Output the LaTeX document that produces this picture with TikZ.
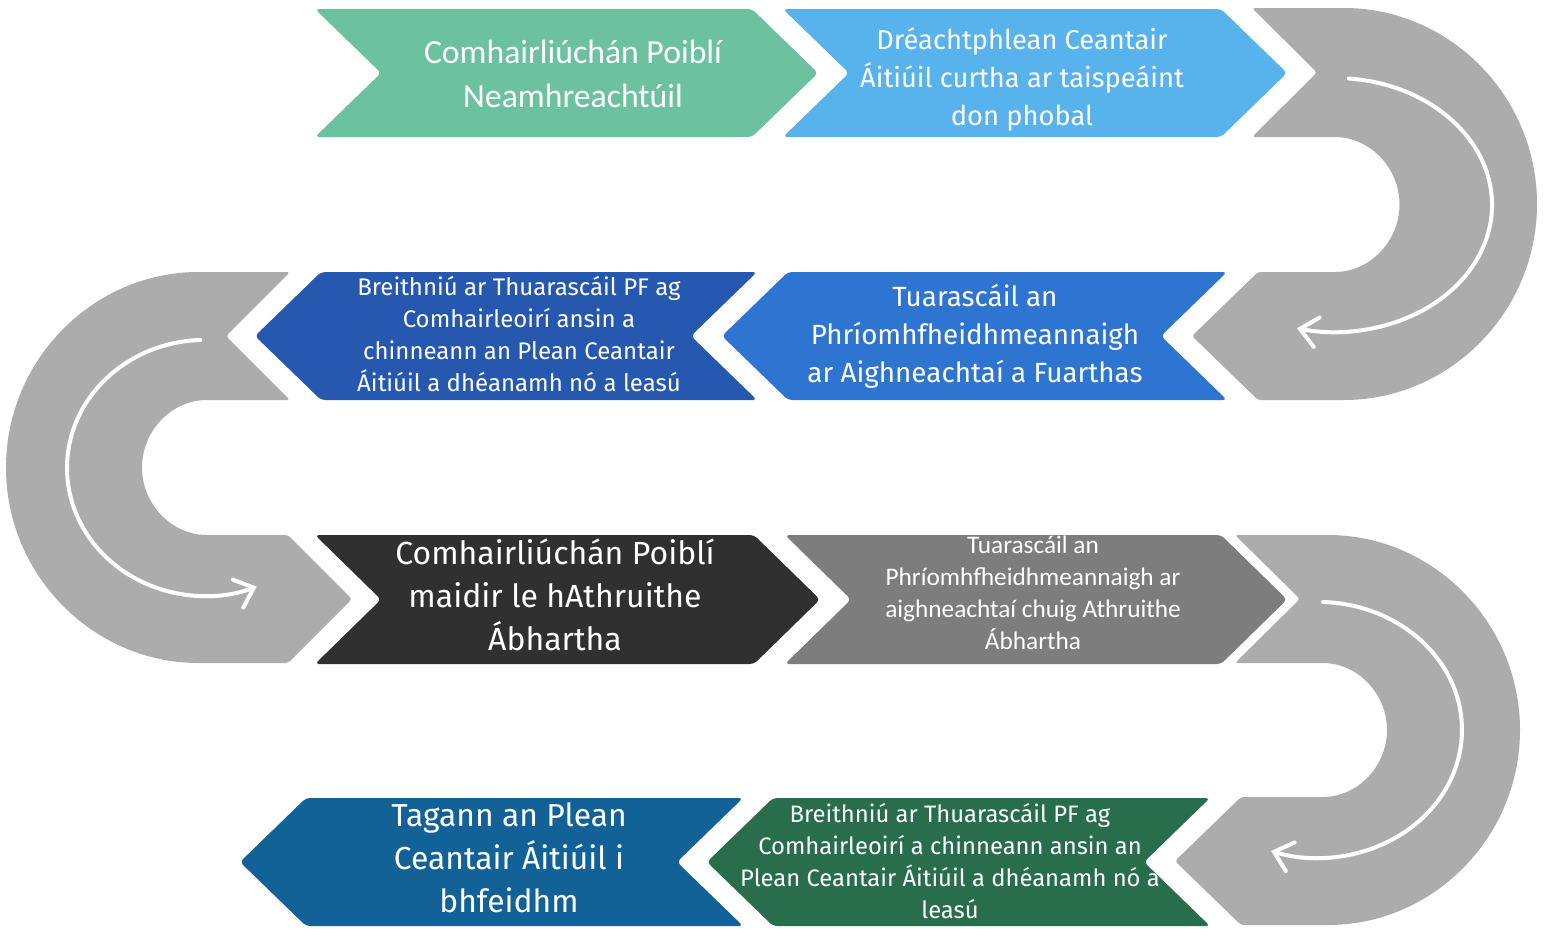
\documentclass[tikz,border=0pt]{standalone}
\usepackage{fontspec}
\newfontfamily\fcarl{Carlito}
\newfontfamily\ffira{Fira Sans}
\usetikzlibrary{arrows.meta}
\definecolor{cgreenA}{RGB}{108,194,158}
\definecolor{cblueA}{RGB}{88,178,236}
\definecolor{cgrayU}{RGB}{172,172,172}
\definecolor{cdblueB}{RGB}{38,88,176}
\definecolor{cmblueB}{RGB}{46,117,210}
\definecolor{cblackC}{RGB}{48,48,48}
\definecolor{cgrayC}{RGB}{125,125,125}
\definecolor{cblueD}{RGB}{18,98,152}
\definecolor{cgreenD}{RGB}{40,110,77}
\newcommand{\dd}{66}
\newcommand{\chevR}[5]{\fill[#1,rounded corners=4pt] (#2,#4) -- ({#3-\dd},#4) -- (#3,{(#4+#5)/2}) -- ({#3-\dd},#5) -- (#2,#5) -- ({#2+\dd},{(#4+#5)/2}) -- cycle;}
\newcommand{\chevL}[5]{\fill[#1,rounded corners=4pt] (#3,#4) -- ({#2+\dd},#4) -- (#2,{(#4+#5)/2}) -- ({#2+\dd},#5) -- (#3,#5) -- ({#3-\dd},{(#4+#5)/2}) -- cycle;}
\tikzset{
  txt/.style={text=white, align=center, inner sep=0pt, anchor=center},
  warrow/.style={draw=white, line width=4pt, line cap=round, -{Straight Barb[length=17pt,width=30pt,line cap=round]}},
  ushape/.style={fill=cgrayU, rounded corners=3pt}
}
\begin{document}
\begin{tikzpicture}[x=1pt,y=-1pt]
\useasboundingbox[fill=white] (0,0) rectangle (1543,929);
% row 1
\chevR{cgreenA}{315}{818}{9}{137}
\chevR{cblueA}{783}{1287}{9}{137}
% U1 (right, rows 1-2)
\fill[ushape] (1252,8) -- (1341,8) arc[start angle=-90,end angle=90,radius=196] -- (1258,400) -- (1192,336) -- (1258,272) -- (1332,272) arc[start angle=90,end angle=-90,radius=67.5] -- (1252,137) -- (1317,72.5) -- cycle;
% row 2
\chevL{cdblueB}{255}{757}{272}{400}
\chevL{cmblueB}{722}{1227}{272}{400}
% U0 (left, rows 2-3)
\fill[ushape] (290,272) -- (201.5,272) arc[start angle=-90,end angle=-270,radius=195.5] -- (288,663) -- (352,599) -- (288,535) -- (209.5,535) arc[start angle=90,end angle=270,radius=67.5] -- (290,400) -- (226,336) -- cycle;
% row 3
\chevR{cblackC}{315}{820}{535}{664}
\chevR{cgrayC}{785}{1287}{535}{664}
% U2 (right, rows 3-4)
\fill[ushape] (1235,535) -- (1325,535) arc[start angle=-90,end angle=90,radius=195] -- (1241,925) -- (1175,861) -- (1241,797) -- (1320,797) arc[start angle=90,end angle=-90,radius=67] -- (1235,663) -- (1300,599) -- cycle;
% row 4
\chevL{cblueD}{240}{743}{798}{926}
\chevL{cgreenD}{707}{1210}{798}{926}
% white arrows
\coordinate (a1) at (1348.7,78.5);
\draw[warrow] (a1) arc[start angle=-85,end angle=104,x radius=157,y radius=127];
\coordinate (a0) at (200.2,340);
\draw[warrow] (a0) arc[start angle=-92,end angle=-292,x radius=138,y radius=128];
\coordinate (a2) at (1323,602);
\draw[warrow] (a2) arc[start angle=-88,end angle=109,x radius=144,y radius=128];
% texts
\node[txt,font=\fcarl\fontsize{33.7}{44}\selectfont] (t1) at (573,74) {Comhairliúchán Poiblí\\Neamhreachtúil};
\node[txt,font=\ffira\fontsize{27.3}{38}\selectfont] (t2) at (1022,79) {Dréachtphlean Ceantair\\Áitiúil curtha ar taispeáint\\don phobal};
\node[txt,font=\ffira\fontsize{27.8}{38}\selectfont] (t3) at (975,336) {Tuarascáil an\\Phríomhfheidhmeannaigh\\ar Aighneachtaí a Fuarthas};
\node[txt,font=\ffira\fontsize{24}{32}\selectfont] (t4) at (519,334) {Breithniú ar Thuarascáil PF ag\\Comhairleoirí ansin a\\chinneann an Plean Ceantair\\Áitiúil a dhéanamh nó a leasú};
\node[txt,font=\ffira\fontsize{32}{43}\selectfont] (t5) at (555,595) {Comhairliúchán Poiblí\\maidir le hAthruithe\\Ábhartha};
\node[txt,font=\fcarl\fontsize{25.3}{32}\selectfont] (t6) at (1033,593) {Tuarascáil an\\Phríomhfheidhmeannaigh ar\\aighneachtaí chuig Athruithe\\Ábhartha};
\node[txt,font=\ffira\fontsize{31.8}{43}\selectfont] (t7) at (509,858) {Tagann an Plean\\Ceantair Áitiúil i\\bhfeidhm};
\node[txt,font=\ffira\fontsize{23.8}{32}\selectfont] (t8) at (950,861) {Breithniú ar Thuarascáil PF ag\\Comhairleoirí a chinneann ansin an\\Plean Ceantair Áitiúil a dhéanamh nó a\\leasú};
\end{tikzpicture}
\end{document}
